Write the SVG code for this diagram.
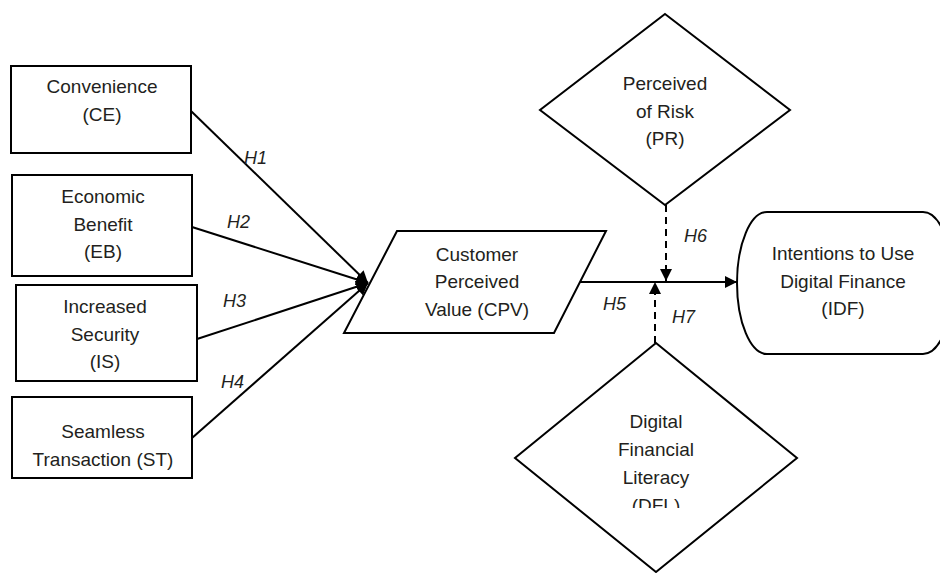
<svg xmlns="http://www.w3.org/2000/svg" width="940" height="573" viewBox="0 0 940 573">
<style>
.shape{fill:#fff;stroke:#000;stroke-width:2}
.t{font-family:"Liberation Sans",Arial,sans-serif;font-size:19px;fill:#231f20;text-anchor:middle}
.h{font-family:"Liberation Sans",Arial,sans-serif;font-size:18px;font-style:italic;fill:#231f20}
.ln{stroke:#000;stroke-width:2;fill:none}
.dash{stroke:#000;stroke-width:2;fill:none;stroke-dasharray:7,5}
</style>
<defs>
<marker id="arr" viewBox="0 0 10 10" refX="10" refY="5" markerWidth="6" markerHeight="6" orient="auto" markerUnits="strokeWidth">
<path d="M0,0 L10,5 L0,10 z" fill="#000"/>
</marker>
<clipPath id="dflclip"><rect x="500" y="330" width="300" height="178"/></clipPath>
</defs>
<rect width="940" height="573" fill="#fff"/>
<g id="connectors">
<line class="ln" x1="191" y1="111" x2="368" y2="283" marker-end="url(#arr)"/>
<line class="ln" x1="192" y1="227" x2="368" y2="283" marker-end="url(#arr)"/>
<line class="ln" x1="197" y1="339" x2="368" y2="283" marker-end="url(#arr)"/>
<line class="ln" x1="192" y1="438" x2="368" y2="283" marker-end="url(#arr)"/>
<line class="ln" x1="580" y1="282" x2="737" y2="282" marker-end="url(#arr)"/>
<line class="dash" x1="666" y1="205" x2="666" y2="281" marker-end="url(#arr)"/>
<line class="dash" x1="655" y1="343" x2="655" y2="282" marker-end="url(#arr)"/>
<text class="h" x="244" y="164">H1</text>
<text class="h" x="227" y="228">H2</text>
<text class="h" x="223" y="307">H3</text>
<text class="h" x="221" y="388">H4</text>
<text class="h" x="603" y="310">H5</text>
<text class="h" x="684" y="242">H6</text>
<text class="h" x="672" y="323">H7</text>
</g>
<g id="CE">
<rect class="shape" x="11" y="66" width="180" height="87"/>
<text class="t" x="102" y="93">Convenience</text>
<text class="t" x="102" y="121">(CE)</text>
</g>
<g id="EB">
<rect class="shape" x="12" y="175" width="180" height="101"/>
<text class="t" x="103" y="203">Economic</text>
<text class="t" x="103" y="231">Benefit</text>
<text class="t" x="103" y="258">(EB)</text>
</g>
<g id="IS">
<rect class="shape" x="16" y="285" width="181" height="96"/>
<text class="t" x="105" y="313">Increased</text>
<text class="t" x="105" y="341">Security</text>
<text class="t" x="105" y="368">(IS)</text>
</g>
<g id="ST">
<rect class="shape" x="12" y="397" width="180" height="81"/>
<text class="t" x="103" y="438">Seamless</text>
<text class="t" x="103" y="466">Transaction (ST)</text>
</g>
<g id="CPV">
<polygon class="shape" points="397,231 606,231 554,333 344,333"/>
<text class="t" x="477" y="261">Customer</text>
<text class="t" x="477" y="288">Perceived</text>
<text class="t" x="477" y="316">Value (CPV)</text>
</g>
<g id="PR">
<polygon class="shape" points="665,14 790,110 665,205 540,110"/>
<text class="t" x="665" y="90">Perceived</text>
<text class="t" x="665" y="118">of Risk</text>
<text class="t" x="665" y="145">(PR)</text>
</g>
<g id="IDF">
<path class="shape" d="M767,212 L923,212 A30,71 0 0 1 923,354 L767,354 A30,71 0 0 1 767,212 Z"/>
<text class="t" x="843" y="260">Intentions to Use</text>
<text class="t" x="843" y="288">Digital Finance</text>
<text class="t" x="843" y="315">(IDF)</text>
</g>
<g id="DFL">
<polygon class="shape" points="656,343 797,458 656,572 515,458"/>
<text class="t" x="656" y="428">Digital</text>
<text class="t" x="656" y="456">Financial</text>
<text class="t" x="656" y="484">Literacy</text>
<text class="t" x="656" y="512" clip-path="url(#dflclip)">(DFL)</text>
</g>
</svg>
